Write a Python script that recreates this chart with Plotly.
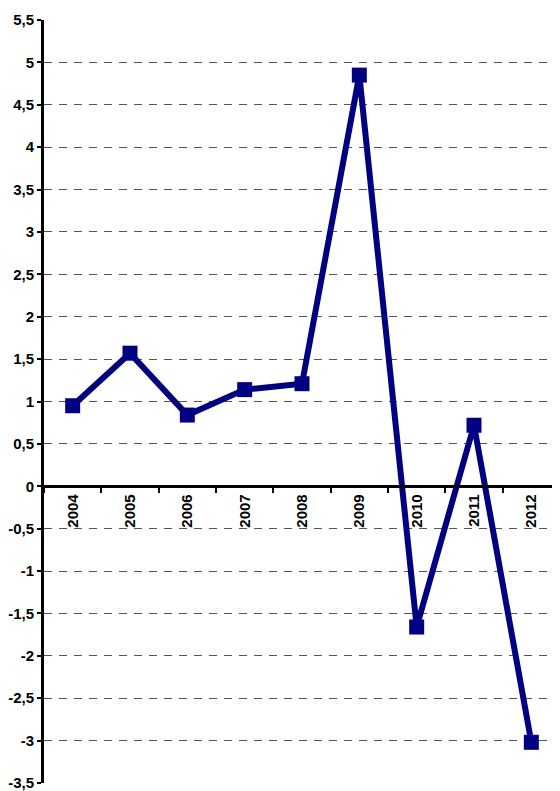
import plotly.graph_objects as go

years = ["2004", "2005", "2006", "2007", "2008", "2009", "2010", "2011", "2012"]
values = [0.95, 1.57, 0.84, 1.14, 1.21, 4.85, -1.66, 0.72, -3.02]

y_tickvals = [-3.5, -3, -2.5, -2, -1.5, -1, -0.5, 0, 0.5, 1, 1.5, 2, 2.5, 3, 3.5, 4, 4.5, 5, 5.5]
y_ticktext = ["-3,5", "-3", "-2,5", "-2", "-1,5", "-1", "-0,5", "0", "0,5", "1", "1,5",
              "2", "2,5", "3", "3,5", "4", "4,5", "5", "5,5"]

y_min, y_max = -3.5, 5.5

fig = go.Figure()

fig.add_trace(go.Scatter(
    x=years,
    y=values,
    mode="lines+markers",
    line=dict(color="#000080", width=6),
    marker=dict(symbol="square", size=15, color="#000080"),
    showlegend=False,
    cliponaxis=False,
))

# page body adds an 8px margin, so shift the plot area up/left by 8px
fig.update_layout(
    width=552,
    height=791,
    margin=dict(l=36, r=0, t=12, b=16),
    plot_bgcolor="white",
    paper_bgcolor="white",
    font=dict(family="Liberation Sans, Arial", size=15, color="black"),
    xaxis=dict(
        type="category",
        range=[-0.5, 8.5],
        anchor="free",
        position=(0 - y_min) / (y_max - y_min),
        showline=True,
        linecolor="black",
        linewidth=3,
        ticks="outside",
        ticklen=5,
        tickwidth=2,
        tickcolor="black",
        tickson="boundaries",
        tickangle=-90,
        tickfont=dict(size=15, weight=700),
        showgrid=False,
        zeroline=False,
    ),
    yaxis=dict(
        range=[y_min, y_max],
        tickvals=y_tickvals,
        ticktext=y_ticktext,
        showline=True,
        linecolor="black",
        linewidth=3,
        ticks="outside",
        ticklen=4,
        tickwidth=2,
        tickcolor="black",
        tickfont=dict(size=15, weight=700),
        showgrid=True,
        gridcolor="#555555",
        gridwidth=1,
        griddash="8px,7px",
        zeroline=False,
    ),
)

fig.write_html("out.html")
